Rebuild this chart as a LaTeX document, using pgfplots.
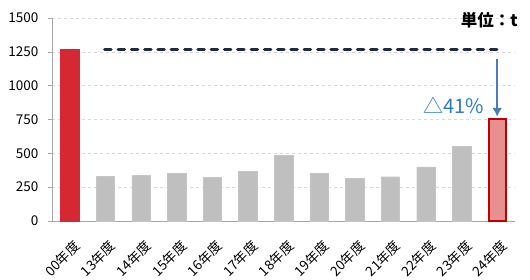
\documentclass[border=0pt]{standalone}
\usepackage{fontspec}
\setmainfont{Noto Sans CJK JP}
\usepackage{pgfplots}
\pgfplotsset{compat=1.18}
\usetikzlibrary{arrows.meta}
\definecolor{barred}{HTML}{D62833}
\definecolor{bargrey}{HTML}{BFBFBF}
\definecolor{lastfill}{HTML}{E8908F}
\definecolor{lastedge}{HTML}{C00000}
\definecolor{navy}{HTML}{1C2B44}
\definecolor{arrowblue}{HTML}{4A7EBB}
\definecolor{textblue}{HTML}{2E7BC4}
\definecolor{axgrey}{HTML}{A6A6A6}
\begin{document}
\begin{tikzpicture}[x=1pt,y=1pt]
\path[use as bounding box] (0,0) rectangle (530,280);
\begin{axis}[
  at={(52pt,59pt)}, anchor=south west,
  scale only axis, width=463pt, height=203pt,
  xmin=-0.5, xmax=12.5, ymin=0, ymax=1500,
  axis x line=bottom, axis y line=left,
  axis line style={axgrey, line width=0.8pt, -},
  xtick={0,...,12},
  xticklabels={00年度,13年度,14年度,15年度,16年度,17年度,18年度,19年度,20年度,21年度,22年度,23年度,24年度},
  x tick label style={xshift=3pt, yshift=-14pt, rotate=45, anchor=north east, font=\fontsize{13.5}{15}\selectfont, inner sep=0pt},
  major x tick style={draw=none},
  extra x ticks={-0.5,0.5,...,12.5},
  extra x tick labels={},
  extra x tick style={major tick length=4pt, tick style={axgrey, line width=0.6pt}, tick align=inside, grid=none},
  ytick={0,250,...,1500},
  y tick label style={font=\fontsize{13.5}{15}\selectfont, xshift=-6pt},
  /pgf/number format/assume math mode=true,
  /pgf/number format/1000 sep={},
  ytick style={axgrey, line width=0.6pt},
  major tick length=4pt,
  tick align=outside,
  ymajorgrids=true,
  grid style={dashed, gray!30, line width=0.5pt},
  clip=false,
]
% grey bars
\addplot[ybar, bar width=18.5pt, fill=bargrey, draw=bargrey!90!white] coordinates {
(1,332) (2,335) (3,350) (4,325) (5,365) (6,483) (7,350) (8,315) (9,327) (10,399) (11,554)};
% red bar 00
\addplot[ybar, bar width=18.5pt, fill=barred, draw=barred] coordinates {(0,1270)};
% last bar
\addplot[ybar, bar width=17pt, fill=lastfill, draw=lastedge, line width=2pt] coordinates {(12,750)};
% dashed reference line
\addplot[navy, line width=3pt, dash pattern=on 6.5pt off 6.8pt, line cap=round] coordinates {(0.98,1270) (12.04,1270)};
% arrow
\draw[arrowblue, line width=2.6pt, -{Latex[length=9pt,width=10pt]}] (axis cs:12,1197) -- (axis cs:12,770);
\node[anchor=east, text=textblue, font=\fontsize{20}{22}\selectfont, inner sep=0pt] at (axis cs:11.63,853) {△41\%};
\node[anchor=east, font=\fontsize{16.5}{18}\selectfont\bfseries, inner sep=0pt] at (axis cs:12.58,1485) {単位：t};
\end{axis}
\end{tikzpicture}
\end{document}
